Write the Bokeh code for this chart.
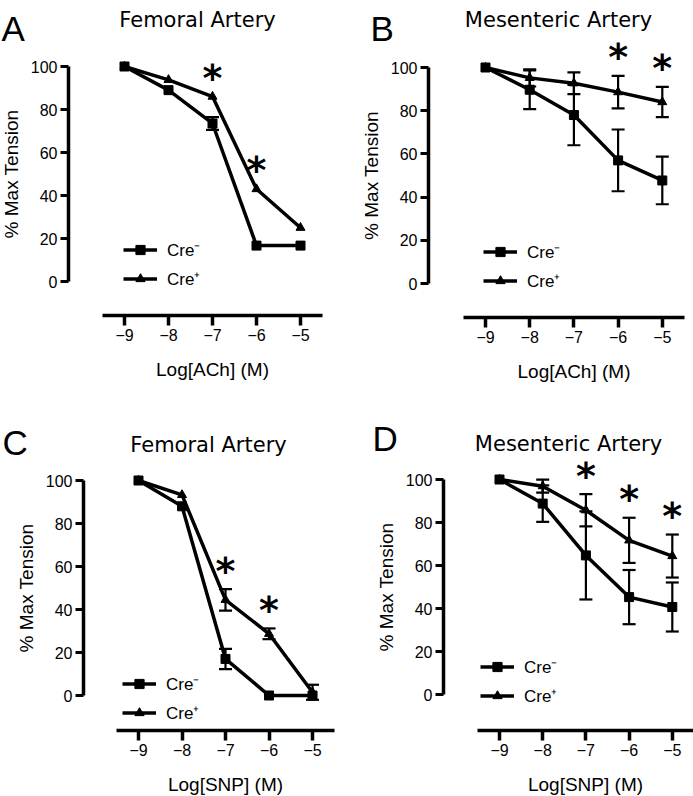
from bokeh.plotting import figure
from bokeh.layouts import gridplot
from bokeh.models import (Range1d, FixedTicker, Whisker, TeeHead, ColumnDataSource,
                          Label, Legend, LegendItem)
from bokeh.core.properties import value
from bokeh.embed import file_html
from bokeh.resources import INLINE

# ---------------- data ----------------
log_dose = [-9, -8, -7, -6, -5]
y_ticks = [0, 20, 40, 60, 80, 100]
series_labels = ["Cre\u207b", "Cre\u207a"]

a_cre_minus = [100, 89, 73.5, 16.7, 16.7]
a_cre_minus_sem = [0, 0, 3, 0, 0]
a_cre_plus = [100, 93.8, 86, 43, 25]
a_cre_plus_sem = [0, 0, 0, 0, 0]
a_sig = [-7, -6]

b_cre_minus = [100, 89.7, 78, 57, 47.7]
b_cre_minus_sem = [0, 9, 14, 14.3, 11]
b_cre_plus = [100, 95.2, 92.7, 88.6, 84]
b_cre_plus_sem = [0, 4, 5, 7.5, 7]
b_sig = [-6, -5]

c_cre_minus = [100, 88, 17, 0, 0]
c_cre_minus_sem = [0, 0, 4.7, 0, 0]
c_cre_plus = [100, 93.3, 44.5, 28.7, 1.5]
c_cre_plus_sem = [0, 0, 5, 2.5, 3.5]
c_sig = [-7, -6]

d_cre_minus = [100, 88.8, 64.7, 45.3, 40.7]
d_cre_minus_sem = [0, 8.5, 20.5, 12.6, 11.4]
d_cre_plus = [100, 96.9, 85.7, 71.7, 64.4]
d_cre_plus_sem = [0, 3, 7.5, 10.5, 10]
d_sig = [-7, -6, -5]

FONT = "Liberation Sans"
TITLE_FONT = "DejaVu Sans"


def panel(letter, title, xlabel, minus, minus_sem, plus, plus_sem, sig, geo):
    fx, fy, W, H = geo["fig"]
    xm9, xs = geo["xm9"], geo["xstep"]
    y0, y100 = geo["y0"], geo["y100"]
    ys = (y0 - y100) / 100.0

    def xd(px):
        return -9 + (px - xm9) / xs

    def yd(py):
        return (y0 - py) / ys

    p = figure(width=W, height=H, title=None,
               x_range=Range1d(xd(fx), xd(fx + W)), y_range=Range1d(yd(fy + H), yd(fy)),
               output_backend="svg", toolbar_location=None, min_border=0)
    p.outline_line_color = None
    p.xgrid.visible = False
    p.ygrid.visible = False
    p.background_fill_color = "white"
    p.border_fill_color = "white"

    xa = p.xaxis[0]
    xa.fixed_location = yd(geo["axis_y"])
    xa.ticker = FixedTicker(ticks=log_dose)
    xa.bounds = (-9.5, -4.5)
    xa.axis_label = xlabel
    xa.axis_line_width = 3.5
    xa.major_tick_line_width = 3.5
    xa.major_tick_out = 10
    xa.major_tick_in = 0
    xa.minor_tick_line_color = None
    xa.major_label_standoff = 3
    xa.axis_label_standoff = 15

    ya = p.yaxis[0]
    ya.fixed_location = xd(geo["axis_x"])
    ya.ticker = FixedTicker(ticks=y_ticks)
    ya.bounds = (0, 100)
    ya.axis_label = "% Max Tension"
    ya.axis_line_width = 3.5
    ya.major_tick_line_width = 3
    ya.major_tick_out = 8
    ya.major_tick_in = 0
    ya.minor_tick_line_color = None
    ya.major_label_standoff = 3
    ya.axis_label_standoff = 6

    for ax in (xa, ya):
        ax.axis_line_color = "black"
        ax.major_tick_line_color = "black"
        ax.major_label_text_font = FONT
        ax.major_label_text_font_size = "16px"
        ax.major_label_text_color = "black"
        ax.axis_label_text_font = FONT
        ax.axis_label_text_font_size = "19px"
        ax.axis_label_text_font_style = "normal"
        ax.axis_label_text_color = "black"

    # error bars (SEM)
    for vals, sems in ((minus, minus_sem), (plus, plus_sem)):
        bx = [d for d, e in zip(log_dose, sems) if e > 0]
        up = [v + e for v, e in zip(vals, sems) if e > 0]
        lo = [v - e for v, e in zip(vals, sems) if e > 0]
        if bx:
            src = ColumnDataSource(dict(x=bx, upper=up, lower=lo))
            p.add_layout(Whisker(source=src, base="x", upper="upper", lower="lower",
                                 line_width=2.2, line_color="black",
                                 upper_head=TeeHead(size=13, line_width=2.2, line_color="black"),
                                 lower_head=TeeHead(size=13, line_width=2.2, line_color="black")))

    l1 = p.line(log_dose, minus, line_width=3.5, line_color="black")
    s1 = p.scatter(log_dose, minus, marker="square", size=9, color="black")
    l2 = p.line(log_dose, plus, line_width=3.5, line_color="black")
    s2 = p.scatter(log_dose, plus, marker="triangle", size=9, color="black")

    # significance asterisks above the Cre+ points
    idx = [log_dose.index(s) for s in sig]
    star_y = [plus[i] + plus_sem[i] + 10.5 for i in idx]
    p.text(x=sig, y=star_y, text=["*"] * len(sig), text_font=value("DejaVu Sans"),
           text_font_style="bold", text_font_size="38px", text_align="center",
           text_baseline="alphabetic", y_offset=4, text_color="black")

    lg_left, lg_bottom = geo["legend"]
    leg = Legend(items=[LegendItem(label=series_labels[0], renderers=[l1, s1]),
                        LegendItem(label=series_labels[1], renderers=[l2, s2])],
                 location=(lg_left - fx, fy + H - lg_bottom), glyph_width=34, glyph_height=23,
                 label_height=23, label_standoff=10, spacing=6, padding=0, margin=0,
                 border_line_alpha=0, background_fill_alpha=0,
                 label_text_font=FONT, label_text_font_size="17px",
                 label_text_color="black")
    p.add_layout(leg)

    lx, lb = geo["letter"]
    p.add_layout(Label(x=lx - fx, y=fy + H - lb, x_units="screen", y_units="screen", text=letter,
                       text_font=FONT, text_font_size="35px", text_color="black",
                       text_align="left", text_baseline="alphabetic"))
    tx, tb = geo["title"]
    p.add_layout(Label(x=tx - fx, y=fy + H - tb, x_units="screen", y_units="screen", text=title,
                       text_font=TITLE_FONT, text_font_size="21px", text_color="black",
                       text_align="center", text_baseline="alphabetic"))
    return p


geoA = dict(fig=(0, 0, 346, 400), axis_x=68, axis_y=315, xm9=124, xstep=44,
            y0=281, y100=66, legend=(123, 290), letter=(1, 28), title=(197, 19))
geoB = dict(fig=(346, 0, 347, 400), axis_x=428, axis_y=317, xm9=485, xstep=44.2,
            y0=283, y100=67, legend=(483, 292), letter=(370, 28), title=(558, 19))
geoC = dict(fig=(0, 400, 346, 396), axis_x=83, axis_y=730, xm9=138, xstep=43.5,
            y0=695, y100=480, legend=(122, 724), letter=(2, 442), title=(208, 444))
geoD = dict(fig=(346, 400, 347, 396), axis_x=443, axis_y=730, xm9=499, xstep=43.2,
            y0=694, y100=479, legend=(480, 707), letter=(372, 438), title=(568, 443))

pA = panel("A", "Femoral Artery", "Log[ACh] (M)", a_cre_minus, a_cre_minus_sem,
           a_cre_plus, a_cre_plus_sem, a_sig, geoA)
pB = panel("B", "Mesenteric Artery", "Log[ACh] (M)", b_cre_minus, b_cre_minus_sem,
           b_cre_plus, b_cre_plus_sem, b_sig, geoB)
pC = panel("C", "Femoral Artery", "Log[SNP] (M)", c_cre_minus, c_cre_minus_sem,
           c_cre_plus, c_cre_plus_sem, c_sig, geoC)
pD = panel("D", "Mesenteric Artery", "Log[SNP] (M)", d_cre_minus, d_cre_minus_sem,
           d_cre_plus, d_cre_plus_sem, d_sig, geoD)

grid = gridplot([[pA, pB], [pC, pD]], toolbar_location=None)
open("out.html", "w").write(file_html(grid, INLINE))
